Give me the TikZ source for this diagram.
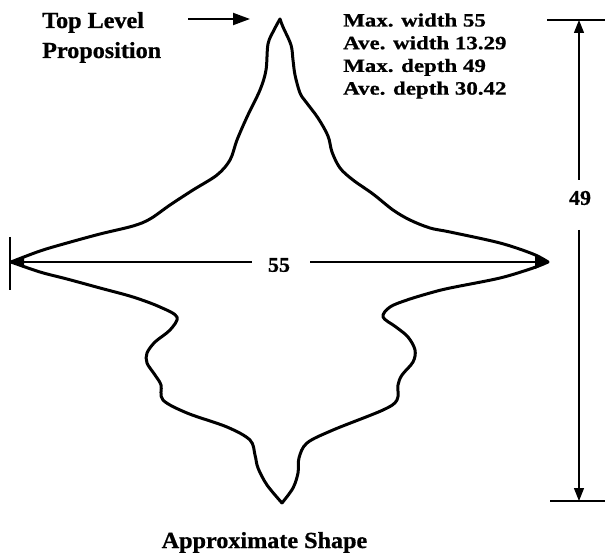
\documentclass[tikz,border=0pt]{standalone}
\usepackage{fontspec}
\setmainfont{Liberation Serif}
\newfontfamily\wideA[FakeStretch=1.05,FakeBold=0.8]{Liberation Serif}
\newfontfamily\wideB[FakeStretch=1.22,FakeBold=0.8]{Liberation Serif}
\usetikzlibrary{arrows.meta}
\begin{document}
\begin{tikzpicture}[x=1pt,y=-1pt,
  shapeline/.style={line width=3pt, line join=round, line cap=round},
  labA/.style={font=\wideA\bfseries\fontsize{23}{28}\selectfont, inner sep=0pt},
  labB/.style={font=\wideB\bfseries\fontsize{18.8}{22.7}\selectfont, inner sep=0pt},
  labN/.style={font=\wideA\bfseries\fontsize{21}{24}\selectfont, inner sep=0pt},
  dimline/.style={line width=1.2pt},
  dimarrow/.style={dimline, -{Triangle[length=13pt,width=10pt]}},
  ptrarrow/.style={line width=2pt, -{Triangle[length=17pt,width=12pt]}}]
\useasboundingbox (0,0) rectangle (605,556);

% key coordinates
\coordinate (toptip) at (280,19);
\coordinate (lefttip) at (11,262);
\coordinate (bottip) at (282,503);
\coordinate (righttip) at (548,262);

% shape outline
\draw[shapeline] plot[smooth, tension=0.55] coordinates {(280,19) (274,30) (268,44) (266,70) (260,90) (247,117) (237,140) (230,160) (217,175) (193,190) (170,205) (150,219) (133,226) (100,234) (67,243) (40,251) (11,262)};
\draw[shapeline] plot[smooth, tension=0.55] coordinates {(11,262) (40,272) (67,279) (100,288) (133,297) (160,307) (177,317) (170,330) (155,342) (147,353) (147,363) (155,375) (161,385) (163,400) (187,413) (227,427) (250,440) (255,455) (258,468) (267,485) (282,503)};
\draw[shapeline] plot[smooth, tension=0.55] coordinates {(282,503) (293,488) (298,473) (299,458) (307,443) (333,430) (383,410) (397,400) (398,385) (402,375) (413,362) (415,350) (408,337) (396,327) (383,317) (390,307) (407,300) (430,293) (450,288) (500,278) (533,268) (548,262)};
\draw[shapeline] plot[smooth, tension=0.55] coordinates {(548,262) (533,254) (500,243) (450,232) (430,228) (410,220) (393,210) (373,194) (353,180) (340,168) (332,152) (328,136) (318,118) (306,102) (300,93) (295,75) (293,60) (291,45) (283,27) (280,19)};
\fill (lefttip) -- (24,256) -- (24,268) -- cycle;
\fill (righttip) -- (535,255) -- (535,269) -- cycle;

% width dimension
\coordinate (lbarT) at (10,237);
\coordinate (lbarB) at (10,290);
\draw[dimline] (lbarT) -- (lbarB);
\node[labN] (w55) at (279,265) {55};
\coordinate (wl) at (252,262);
\coordinate (wr) at (310,262);
\draw[dimline] (lefttip) -- (wl);
\draw[dimline] (wr) -- (righttip);

% depth dimension
\coordinate (dtopL) at (547,20);
\coordinate (dtopR) at (605,20);
\coordinate (dbotL) at (550,501);
\coordinate (dbotR) at (605,501);
\draw[dimline] (dtopL) -- (dtopR);
\draw[dimline] (dbotL) -- (dbotR);
\node[labN] (d49) at (580,198) {49};
\coordinate (dtop) at (579,20);
\coordinate (dbot) at (579,501);
\coordinate (dgapT) at (579,180);
\coordinate (dgapB) at (579,230);
\draw[dimarrow] (dgapT) -- (dtop);
\draw[dimarrow] (dgapB) -- (dbot);

% labels
\node[labA, anchor=base west] (tl1) at (42,28) {Top Level};
\node[labA, anchor=base west] (tl2) at (42,58) {Proposition};
\coordinate (pstart) at (188,19);
\coordinate (pend) at (250,19);
\draw[ptrarrow] (pstart) -- (pend);

\node[labB, anchor=base west] (s1) at (343,26.5) {Max. width 55};
\node[labB, anchor=base west] (s2) at (343,49.2) {Ave. width 13.29};
\node[labB, anchor=base west] (s3) at (343,71.9) {Max. depth 49};
\node[labB, anchor=base west] (s4) at (343,94.6) {Ave. depth 30.42};

\node[labA, anchor=base] (cap) at (264.5,548) {Approximate Shape};
\end{tikzpicture}
\end{document}
